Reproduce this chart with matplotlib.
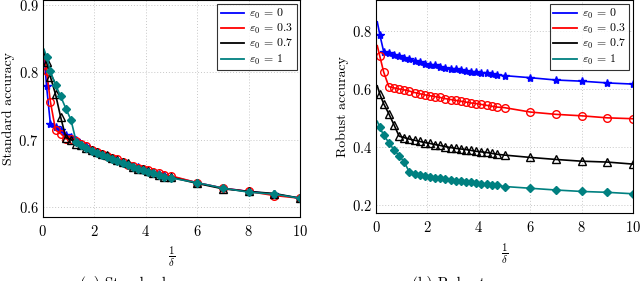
import matplotlib
matplotlib.use('Agg')
import matplotlib.pyplot as plt

plt.rcParams['font.family'] = 'serif'
plt.rcParams['font.serif'] = ['cmr10']
plt.rcParams['mathtext.fontset'] = 'cm'
plt.rcParams['axes.formatter.use_mathtext'] = True

# Data
x = [0.05, 0.15, 0.3, 0.5, 0.7, 0.9, 1.1, 1.3, 1.5, 1.7, 1.9, 2.1, 2.3, 2.5, 2.7, 2.9,
     3.1, 3.3, 3.5, 3.7, 3.9, 4.1, 4.3, 4.5, 4.7, 5.0, 6, 7, 8, 9, 10]

std_eps0 = [0.832, 0.779, 0.723, 0.719, 0.714, 0.707, 0.704, 0.699, 0.694, 0.690, 0.685, 0.681,
            0.679, 0.676, 0.673, 0.670, 0.667, 0.664, 0.661, 0.659, 0.657, 0.654, 0.652, 0.649,
            0.647, 0.645, 0.636, 0.628, 0.623, 0.619, 0.613]
std_eps03 = [0.830, 0.802, 0.756, 0.714, 0.709, 0.701, 0.701, 0.698, 0.693, 0.690, 0.684, 0.681,
             0.679, 0.676, 0.673, 0.671, 0.667, 0.663, 0.661, 0.658, 0.657, 0.655, 0.652, 0.650,
             0.647, 0.646, 0.636, 0.628, 0.623, 0.617, 0.613]
std_eps07 = [0.832, 0.815, 0.793, 0.767, 0.733, 0.703, 0.700, 0.694, 0.692, 0.688, 0.684, 0.681,
             0.679, 0.677, 0.672, 0.669, 0.666, 0.665, 0.660, 0.657, 0.657, 0.653, 0.651, 0.648,
             0.645, 0.644, 0.635, 0.627, 0.623, 0.620, 0.613]
std_eps1 = [0.834, 0.823, 0.801, 0.781, 0.764, 0.746, 0.729, 0.697, 0.692, 0.688, 0.683, 0.680,
            0.677, 0.674, 0.671, 0.668, 0.665, 0.662, 0.659, 0.656, 0.655, 0.652, 0.650, 0.647,
            0.645, 0.643, 0.636, 0.628, 0.622, 0.619, 0.613]

rob_eps0 = [0.830, 0.785, 0.727, 0.722, 0.716, 0.711, 0.707, 0.702, 0.697, 0.692, 0.684, 0.681,
            0.682, 0.676, 0.673, 0.669, 0.667, 0.665, 0.662, 0.659, 0.656, 0.654, 0.653, 0.650,
            0.647, 0.645, 0.638, 0.630, 0.626, 0.620, 0.616]
rob_eps03 = [0.748, 0.711, 0.657, 0.607, 0.603, 0.599, 0.596, 0.592, 0.587, 0.583, 0.579, 0.576,
             0.573, 0.570, 0.566, 0.563, 0.560, 0.557, 0.554, 0.551, 0.549, 0.546, 0.543, 0.540,
             0.537, 0.535, 0.520, 0.512, 0.507, 0.500, 0.497]
rob_eps07 = [0.610, 0.581, 0.548, 0.514, 0.476, 0.437, 0.432, 0.427, 0.423, 0.419, 0.415, 0.412,
             0.408, 0.405, 0.401, 0.398, 0.395, 0.393, 0.391, 0.388, 0.385, 0.383, 0.381, 0.378,
             0.375, 0.372, 0.364, 0.357, 0.351, 0.348, 0.341]
rob_eps1 = [0.488, 0.467, 0.440, 0.415, 0.390, 0.370, 0.348, 0.313, 0.307, 0.303, 0.299, 0.297,
            0.294, 0.292, 0.289, 0.286, 0.284, 0.282, 0.280, 0.278, 0.276, 0.274, 0.272, 0.270,
            0.268, 0.264, 0.258, 0.252, 0.247, 0.244, 0.239]

labels = [r'$\varepsilon_0$ = 0', r'$\varepsilon_0$ = 0.3', r'$\varepsilon_0$ = 0.7', r'$\varepsilon_0$ = 1']
colors = ['#0000ff', '#ff0000', '#000000', '#008080']
markers = ['*', 'o', '^', 'D']
mfaces = ['#0000ff', 'none', 'none', '#008080']
msizes = [6, 5.5, 5.5, 3.8]

fig = plt.figure(figsize=(6.4, 2.81), dpi=100)
ax1 = fig.add_axes([0.0667, 0.2288, 0.4023, 0.7712])
ax2 = fig.add_axes([0.5875, 0.241, 0.4016, 0.759])


def draw(ax, series):
    for ys, lab, c, m, mf, ms in zip(series, labels, colors, markers, mfaces, msizes):
        ax.plot(x, ys, color=c, lw=1.2, marker=m, ms=ms, mfc=mf, mec=c, mew=1.0,
                markevery=slice(1, None), label=lab)
    ax.set_xlim(0, 10)
    ax.set_xticks([0, 2, 4, 6, 8, 10])
    ax.grid(True, linestyle=(0, (1, 2)), color='#c8c8c8', lw=0.7)
    ax.tick_params(labelsize=10.5, direction='in', length=0)
    ax.tick_params(axis='x', pad=5)
    ax.tick_params(axis='y', pad=3)
    for s in ax.spines.values():
        s.set_linewidth(0.8)
    ax.set_xlabel(r'$\frac{1}{\delta}$', fontsize=11, labelpad=4)
    leg = ax.legend(handles=[plt.Line2D([], [], color=c, lw=1.3) for c in colors],
                    labels=labels, loc='upper right', fontsize=8.5, frameon=True, fancybox=False,
                    handlelength=2.0, handletextpad=0.4, borderpad=0.3, labelspacing=0.1,
                    borderaxespad=0.3)
    leg.get_frame().set_edgecolor('black')
    leg.get_frame().set_linewidth(0.8)


draw(ax1, [std_eps0, std_eps03, std_eps07, std_eps1])
ax1.set_ylim(0.5856, 0.907)
ax1.set_yticks([0.6, 0.7, 0.8, 0.9])
ax1.set_ylabel('Standard accuracy', fontsize=10, labelpad=2)

draw(ax2, [rob_eps0, rob_eps03, rob_eps07, rob_eps1])
ax2.set_ylim(0.172, 0.905)
ax2.set_yticks([0.2, 0.4, 0.6, 0.8])
ax2.set_ylabel('Robust accuracy', fontsize=10, labelpad=2)

fig.text(80 / 640, 0.018, '(a) Standard accuracy', fontsize=11, ha='left', va='top')
fig.text(412 / 640, 0.018, '(b) Robust accuracy', fontsize=11, ha='left', va='top')

fig.savefig('out.png', dpi=100)
